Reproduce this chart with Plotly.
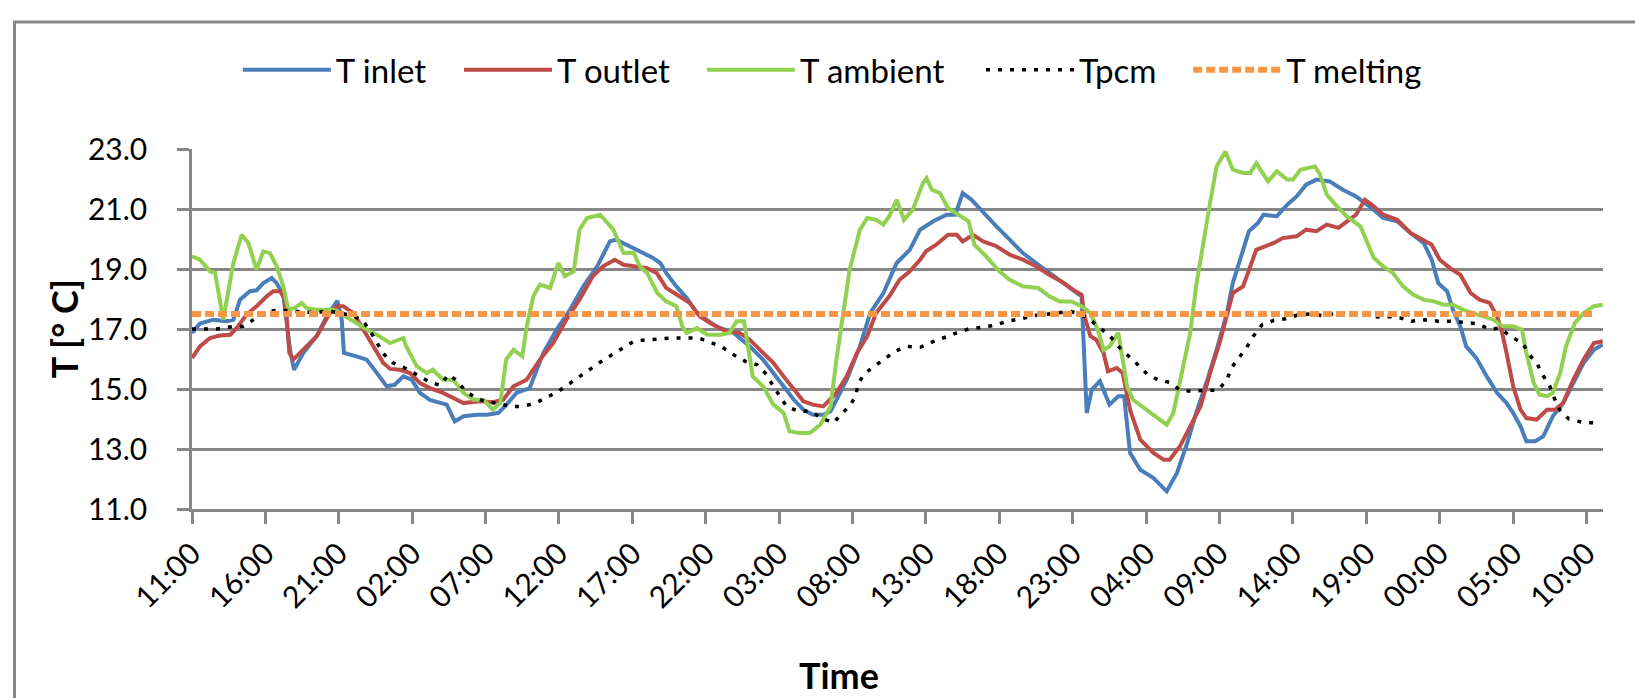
import plotly.graph_objects as go

# ---- data (hours since 11:00 on day 1, temperature in deg C) ----
tick_hours = [0, 5, 10, 15, 20, 25, 30, 35, 40, 45, 50, 55, 60, 65, 70, 75, 80, 85, 90, 95]
tick_labels = ["11:00", "16:00", "21:00", "02:00", "07:00", "12:00", "17:00", "22:00", "03:00", "08:00",
               "13:00", "18:00", "23:00", "04:00", "09:00", "14:00", "19:00", "00:00", "05:00", "10:00"]

t_inlet = [(0, 16.87), (0.54, 17.18), (1.45, 17.31), (2.36, 17.26), (2.82, 17.31), (3.27, 17.98), (3.95, 18.26),
           (4.4, 18.29), (4.86, 18.53), (5.43, 18.7), (5.77, 18.53), (6.22, 18.14), (6.68, 16.3), (6.95, 15.64),
           (7.58, 16.2), (8.49, 16.76), (9.17, 17.42), (9.9, 17.94), (10.2, 17.31), (10.35, 16.2), (11.2, 16.09),
           (11.9, 15.98), (12.6, 15.53), (13.26, 15.09), (13.8, 15.14), (14.4, 15.42), (14.96, 15.31), (15.53, 14.87),
           (16.2, 14.64), (17.35, 14.48), (17.9, 13.92), (18.5, 14.09), (19.4, 14.14), (20.1, 14.14), (20.87, 14.2),
           (21.43, 14.48), (22.1, 14.87), (23.0, 15.03), (23.93, 16.2), (24.84, 16.98), (25.75, 17.64), (26.66, 18.42),
           (27.6, 19.09), (28.47, 19.92), (28.9, 19.98), (29.6, 19.81), (30.5, 19.59), (31.4, 19.37), (31.9, 19.2),
           (32.3, 18.87), (33.0, 18.42), (33.7, 18.03), (34.4, 17.53), (35.1, 17.31), (35.7, 17.09), (36.9, 16.87),
           (38.0, 16.42), (38.9, 15.98), (39.6, 15.53), (40.3, 15.09), (41.0, 14.64), (41.65, 14.31), (42.3, 14.14),
           (43.0, 14.14), (43.5, 14.26), (43.9, 14.64), (44.6, 15.31), (45.5, 16.42), (46.2, 17.53), (47.1, 18.2),
           (48.0, 19.2), (48.9, 19.64), (49.6, 20.31), (50.5, 20.59), (51.4, 20.81), (52.0, 20.81), (52.3, 21.31),
           (52.5, 21.53), (53.1, 21.31), (53.9, 20.87), (54.8, 20.42), (55.7, 19.98), (56.6, 19.53), (57.5, 19.2),
           (58.4, 18.87), (59.4, 18.53), (60.0, 18.31), (60.6, 18.09), (60.95, 14.2), (61.3, 14.98), (61.85, 15.26),
           (62.5, 14.48), (63.1, 14.76), (63.5, 14.76), (63.9, 12.87), (64.6, 12.31), (65.5, 12.03), (66.4, 11.59),
           (67.1, 12.2), (67.8, 13.2), (68.4, 14.2), (69.1, 15.2), (69.8, 16.31), (70.5, 17.53), (70.9, 18.53),
           (71.4, 19.31), (72.0, 20.26), (72.6, 20.53), (73.0, 20.81), (73.9, 20.76), (74.6, 21.14), (75.25, 21.42),
           (75.9, 21.81), (76.6, 21.98), (77.5, 21.92), (78.4, 21.64), (79.3, 21.42), (80.2, 21.09), (81.15, 20.7),
           (82.1, 20.59), (83.0, 20.2), (83.9, 19.87), (84.45, 19.31), (84.9, 18.53), (85.5, 18.26), (85.9, 17.64),
           (86.4, 17.09), (86.8, 16.42), (87.5, 16.03), (88.2, 15.42), (88.9, 14.87), (89.55, 14.53), (90.0, 14.2),
           (90.5, 13.76), (90.9, 13.26), (91.5, 13.26), (92.05, 13.42), (92.7, 14.09), (93.4, 14.53), (94.1, 15.2),
           (94.8, 15.87), (95.5, 16.31), (96.1, 16.48)]

t_outlet = [(0, 16.03), (0.54, 16.42), (1.23, 16.7), (1.9, 16.78), (2.6, 16.81), (3.04, 17.03), (3.72, 17.48),
            (4.4, 17.76), (5.09, 18.09), (5.54, 18.26), (6.0, 18.26), (6.36, 17.98), (6.63, 16.2), (6.9, 15.98),
            (7.58, 16.31), (8.49, 16.76), (9.4, 17.53), (9.85, 17.76), (10.3, 17.76), (11.0, 17.53), (11.67, 16.98),
            (12.35, 16.42), (13.03, 15.87), (13.5, 15.67), (14.17, 15.64), (14.85, 15.53), (15.53, 15.2), (16.2, 15.03),
            (17.1, 14.87), (17.8, 14.7), (18.5, 14.53), (19.6, 14.59), (20.5, 14.56), (21.2, 14.64), (21.9, 15.09),
            (22.8, 15.31), (23.7, 15.98), (24.6, 16.53), (25.5, 17.31), (26.4, 17.98), (27.3, 18.76), (28.0, 19.09),
            (28.8, 19.31), (29.4, 19.14), (30.1, 19.09), (31.0, 19.03), (31.65, 18.87), (32.3, 18.37), (33.2, 18.09),
            (33.9, 17.87), (34.6, 17.42), (35.5, 17.14), (36.4, 16.92), (37.3, 16.87), (38.0, 16.64), (38.9, 16.2),
            (39.6, 15.87), (40.3, 15.42), (41.0, 14.98), (41.65, 14.59), (42.3, 14.48), (43.0, 14.42), (43.9, 14.87),
            (44.6, 15.42), (45.3, 16.2), (46.0, 16.76), (46.6, 17.53), (47.5, 18.09), (48.2, 18.64), (48.9, 18.92),
            (49.6, 19.31), (50.0, 19.59), (50.7, 19.81), (51.5, 20.14), (52.1, 20.14), (52.5, 19.92), (53.2, 20.14),
            (53.9, 19.92), (54.8, 19.76), (55.7, 19.48), (56.6, 19.31), (57.5, 19.09), (58.4, 18.81), (59.4, 18.53),
            (60.0, 18.31), (60.6, 18.14), (60.8, 17.42), (61.2, 16.76), (61.6, 16.64), (62.1, 16.2), (62.4, 15.59),
            (63.0, 15.7), (63.4, 15.53), (63.9, 14.31), (64.6, 13.31), (65.5, 12.87), (66.2, 12.64), (66.6, 12.64),
            (67.3, 13.09), (68.0, 13.76), (68.7, 14.42), (69.35, 15.53), (70.0, 16.53), (70.6, 17.64), (70.9, 18.2),
            (71.6, 18.42), (72.1, 19.09), (72.5, 19.64), (73.7, 19.87), (74.3, 20.03), (75.25, 20.09), (75.9, 20.31),
            (76.6, 20.26), (77.3, 20.48), (78.1, 20.37), (78.65, 20.59), (79.3, 20.81), (79.9, 21.31), (80.5, 21.09),
            (81.15, 20.81), (82.1, 20.64), (83.0, 20.2), (83.9, 19.98), (84.45, 19.81), (85.0, 19.31), (85.7, 19.03),
            (86.4, 18.81), (87.1, 18.2), (87.7, 17.98), (88.4, 17.87), (88.9, 17.42), (89.2, 16.98), (89.55, 16.2),
            (90.0, 15.09), (90.5, 14.31), (90.9, 14.03), (91.6, 13.98), (92.3, 14.31), (92.85, 14.31), (93.4, 14.53),
            (94.1, 15.31), (94.8, 15.98), (95.5, 16.53), (96.1, 16.59)]

t_ambient = [(0, 19.42), (0.54, 19.31), (1.23, 18.92), (1.57, 18.87), (2.13, 17.31), (2.82, 19.2), (3.38, 20.14),
             (3.84, 19.87), (4.4, 18.98), (4.86, 19.59), (5.31, 19.53), (5.77, 19.09), (6.22, 18.42), (6.56, 17.64),
             (7.0, 17.7), (7.47, 17.87), (7.8, 17.7), (8.49, 17.64), (9.63, 17.64), (10.1, 17.53), (11.0, 17.26),
             (11.9, 16.98), (12.6, 16.81), (13.5, 16.53), (14.4, 16.7), (14.6, 16.42), (15.3, 15.76), (16.0, 15.53),
             (16.4, 15.64), (17.1, 15.31), (17.8, 15.31), (18.5, 14.87), (19.2, 14.64), (19.85, 14.64), (20.5, 14.31),
             (21.0, 14.53), (21.4, 15.98), (21.9, 16.31), (22.5, 16.09), (22.8, 17.09), (23.25, 18.09), (23.7, 18.48),
             (24.4, 18.37), (24.95, 19.2), (25.4, 18.76), (26.0, 18.92), (26.4, 20.31), (26.9, 20.7), (27.8, 20.81),
             (28.7, 20.31), (29.4, 19.53), (30.1, 19.53), (30.5, 19.09), (31.0, 18.87), (31.7, 18.2), (32.3, 17.92),
             (33.0, 17.76), (33.4, 17.09), (33.7, 16.87), (34.4, 17.03), (35.1, 16.81), (36.0, 16.81), (36.6, 16.87),
             (37.1, 17.26), (37.6, 17.26), (37.9, 16.42), (38.2, 15.42), (38.9, 15.09), (39.6, 14.48), (40.3, 14.2),
             (40.7, 13.59), (41.4, 13.53), (42.1, 13.53), (42.8, 13.81), (43.5, 14.42), (43.9, 15.98), (44.4, 17.76),
             (44.8, 18.98), (45.5, 20.31), (46.0, 20.7), (46.6, 20.64), (47.1, 20.48), (47.5, 20.76), (48.0, 21.31),
             (48.5, 20.64), (49.1, 20.98), (49.8, 21.87), (50.04, 22.03), (50.4, 21.64), (50.95, 21.53), (51.5, 21.03),
             (52.2, 20.81), (52.9, 20.59), (53.3, 19.81), (54.1, 19.42), (55.0, 18.92), (55.7, 18.64), (56.6, 18.42),
             (57.65, 18.37), (58.4, 18.09), (59.1, 17.92), (59.9, 17.92), (60.6, 17.76), (61.2, 17.53), (61.7, 16.98),
             (62.1, 16.31), (62.5, 16.42), (63.1, 16.87), (63.3, 16.31), (63.7, 15.09), (64.1, 14.64), (65.0, 14.31),
             (65.7, 14.03), (66.4, 13.81), (66.85, 14.2), (67.3, 15.2), (68.0, 16.87), (68.4, 18.42), (68.9, 19.98),
             (69.35, 21.2), (69.8, 22.42), (70.4, 22.92), (70.9, 22.31), (71.6, 22.2), (72.1, 22.2), (72.5, 22.53),
             (73.3, 21.92), (73.9, 22.26), (74.6, 21.98), (75.0, 21.98), (75.5, 22.31), (76.5, 22.42), (76.85, 22.14),
             (77.3, 21.48), (78.0, 21.09), (78.65, 20.76), (79.6, 20.42), (80.0, 19.98), (80.5, 19.37), (81.15, 19.09),
             (81.8, 18.87), (82.5, 18.42), (83.2, 18.14), (83.9, 17.98), (84.6, 17.92), (85.25, 17.81), (85.9, 17.81),
             (86.6, 17.64), (87.3, 17.53), (87.97, 17.42), (88.65, 17.31), (89.3, 17.09), (90.0, 17.09), (90.6, 16.98),
             (90.9, 16.2), (91.4, 15.2), (91.8, 14.81), (92.3, 14.76), (92.7, 14.87), (93.2, 15.53), (93.6, 16.42),
             (94.2, 17.2), (94.8, 17.53), (95.5, 17.76), (96.1, 17.81)]

t_pcm = [(0, 17.0), (0.77, 17.0), (1.68, 17.0), (2.6, 17.07), (3.5, 17.09), (4.18, 17.31), (4.86, 17.53), (5.65, 17.62),
         (6.68, 17.62), (7.58, 17.56), (8.49, 17.56), (9.4, 17.59), (10.1, 17.53), (11.0, 17.44), (11.67, 17.26),
         (12.35, 16.76), (13.03, 16.18), (13.7, 15.87), (14.5, 15.7), (15.3, 15.48), (16.1, 15.26), (16.9, 15.12),
         (17.46, 15.48), (17.9, 15.33), (18.6, 14.96), (19.3, 14.7), (20.07, 14.56), (20.87, 14.53), (21.66, 14.42),
         (22.5, 14.42), (23.4, 14.53), (24.2, 14.73), (24.95, 14.92), (25.6, 15.14), (26.4, 15.42), (27.1, 15.67),
         (27.8, 15.89), (28.6, 16.14), (29.4, 16.37), (30.1, 16.59), (31.0, 16.64), (31.9, 16.67), (32.8, 16.7),
         (33.7, 16.7), (34.5, 16.7), (35.3, 16.56), (36.1, 16.4), (36.9, 16.14), (37.7, 15.92), (38.5, 15.81),
         (39.15, 15.48), (39.6, 15.09), (40.05, 14.76), (40.5, 14.42), (41.3, 14.26), (42.1, 14.26), (42.9, 14.03),
         (43.7, 13.87), (44.3, 14.2), (44.8, 14.42), (45.2, 14.76), (45.4, 15.2), (45.85, 15.53), (46.5, 15.76),
         (47.2, 16.03), (47.9, 16.26), (48.7, 16.42), (49.6, 16.39), (50.4, 16.56), (51.25, 16.73), (52.1, 16.87),
         (52.9, 17.0), (53.75, 17.07), (54.7, 17.12), (55.5, 17.26), (56.4, 17.33), (57.3, 17.44), (58.1, 17.48),
         (59.0, 17.53), (59.85, 17.59), (60.6, 17.48), (61.3, 17.26), (62.0, 16.98), (62.65, 16.7), (63.2, 16.37),
         (63.85, 16.09), (64.5, 15.78), (65.1, 15.48), (65.8, 15.31), (66.6, 15.22), (67.3, 14.96), (68.1, 14.92),
         (69.0, 14.96), (69.9, 14.96), (70.5, 15.31), (70.8, 15.7), (71.35, 16.07), (71.85, 16.39), (72.3, 16.76),
         (72.9, 17.14), (73.7, 17.29), (74.5, 17.34), (75.4, 17.48), (76.3, 17.5), (77.1, 17.44), (78.0, 17.53),
         (78.8, 17.48), (79.7, 17.57), (80.5, 17.4), (81.4, 17.42), (82.3, 17.37), (83.1, 17.26), (84.0, 17.31),
         (84.9, 17.26), (85.7, 17.26), (86.6, 17.22), (87.5, 17.18), (88.4, 17.0), (89.1, 17.03), (89.9, 16.73),
         (90.65, 16.53), (91.1, 16.14), (91.6, 15.87), (92.05, 15.44), (92.5, 15.09), (92.8, 14.7), (93.2, 14.29),
         (93.8, 14.0), (94.7, 13.89), (95.5, 13.87)]

t_melting = [(0, 17.5), (95.5, 17.5)]

series_names = ["T inlet", "T outlet", "T ambient", "Tpcm", "T melting"]

# ---- styling ----
FONT = "Lato, Carlito, Calibri, 'Open Sans', sans-serif"
GRID = "#878787"
styles = [
    dict(color="#4A7EBB", width=4),
    dict(color="#BE4B48", width=4),
    dict(color="#92D050", width=4),
    dict(color="#000000", width=3.5, dash="4px,8px"),
    dict(color="#F79646", width=6, dash="9px,4px"),
]
legend_ids = ["legend", "legend2", "legend3", "legend4", "legend5"]
legend_x = [0.0325, 0.1892, 0.3614, 0.5592, 0.7060]

fig = go.Figure()
for name, pts, st, lg in zip(series_names, [t_inlet, t_outlet, t_ambient, t_pcm, t_melting], styles, legend_ids):
    xs = [p[0] for p in pts]
    ys = [p[1] for p in pts]
    fig.add_trace(go.Scatter(x=xs, y=ys, mode="lines", name=name, line=st, legend=lg))

x_range = [0, 96.12]

legend_common = dict(orientation="h", xanchor="left", y=1.22, yanchor="middle",
                     font=dict(size=33, family=FONT, color="black"), itemwidth=88,
                     bgcolor="rgba(0,0,0,0)", borderwidth=0)
legend_layout = {lg: dict(legend_common, x=lx) for lg, lx in zip(legend_ids, legend_x)}

fig.update_layout(
    width=1635, height=698,
    margin=dict(l=192, r=32, t=149, b=189),
    paper_bgcolor="white", plot_bgcolor="white",
    font=dict(family=FONT, color="black"),
    showlegend=True,
    xaxis=dict(range=x_range, tickmode="array", tickvals=tick_hours, ticktext=tick_labels,
               tickangle=-45, ticks="outside", ticklen=12, tickwidth=2.5, tickcolor=GRID,
               showline=True, linecolor=GRID, linewidth=2.5, showgrid=False, zeroline=False,
               tickfont=dict(size=30, family=FONT, color="black")),
    xaxis2=dict(range=x_range, overlaying="x", anchor="y", side="bottom", tickmode="array",
                tickvals=tick_hours, ticks="inside", ticklen=12, tickwidth=2.5, tickcolor=GRID,
                showticklabels=False, showline=False, showgrid=False, zeroline=False),
    yaxis=dict(range=[11, 23], tick0=11, dtick=2, tickformat=".1f", ticks="outside", ticklen=12,
               tickwidth=2.5, tickcolor=GRID, showline=True, linecolor=GRID, linewidth=2.5,
               showgrid=True, gridcolor=GRID, gridwidth=2.5, zeroline=False, ticklabelstandoff=24,
               tickfont=dict(size=30, family=FONT, color="black")),
    annotations=[
        dict(text="<b>T [° C]</b>", xref="paper", yref="paper", x=-0.0905, y=0.5, textangle=-90,
             showarrow=False, xanchor="center", yanchor="middle", font=dict(size=36, family=FONT)),
        dict(text="<b>Time</b>", xref="paper", yref="paper", x=0.4585, y=-0.46, showarrow=False,
             xanchor="center", yanchor="middle", font=dict(size=36, family=FONT)),
    ],
    shapes=[
        dict(type="rect", xref="paper", yref="paper", x0=-0.1258, x1=1.06, y0=-0.7, y1=1.3528,
             line=dict(color="#888888", width=3), fillcolor="rgba(0,0,0,0)", layer="below"),
    ],
    **legend_layout,
)

fig.write_html("out.html", config={"displayModeBar": False},
               post_script="document.body.style.margin='0';")
